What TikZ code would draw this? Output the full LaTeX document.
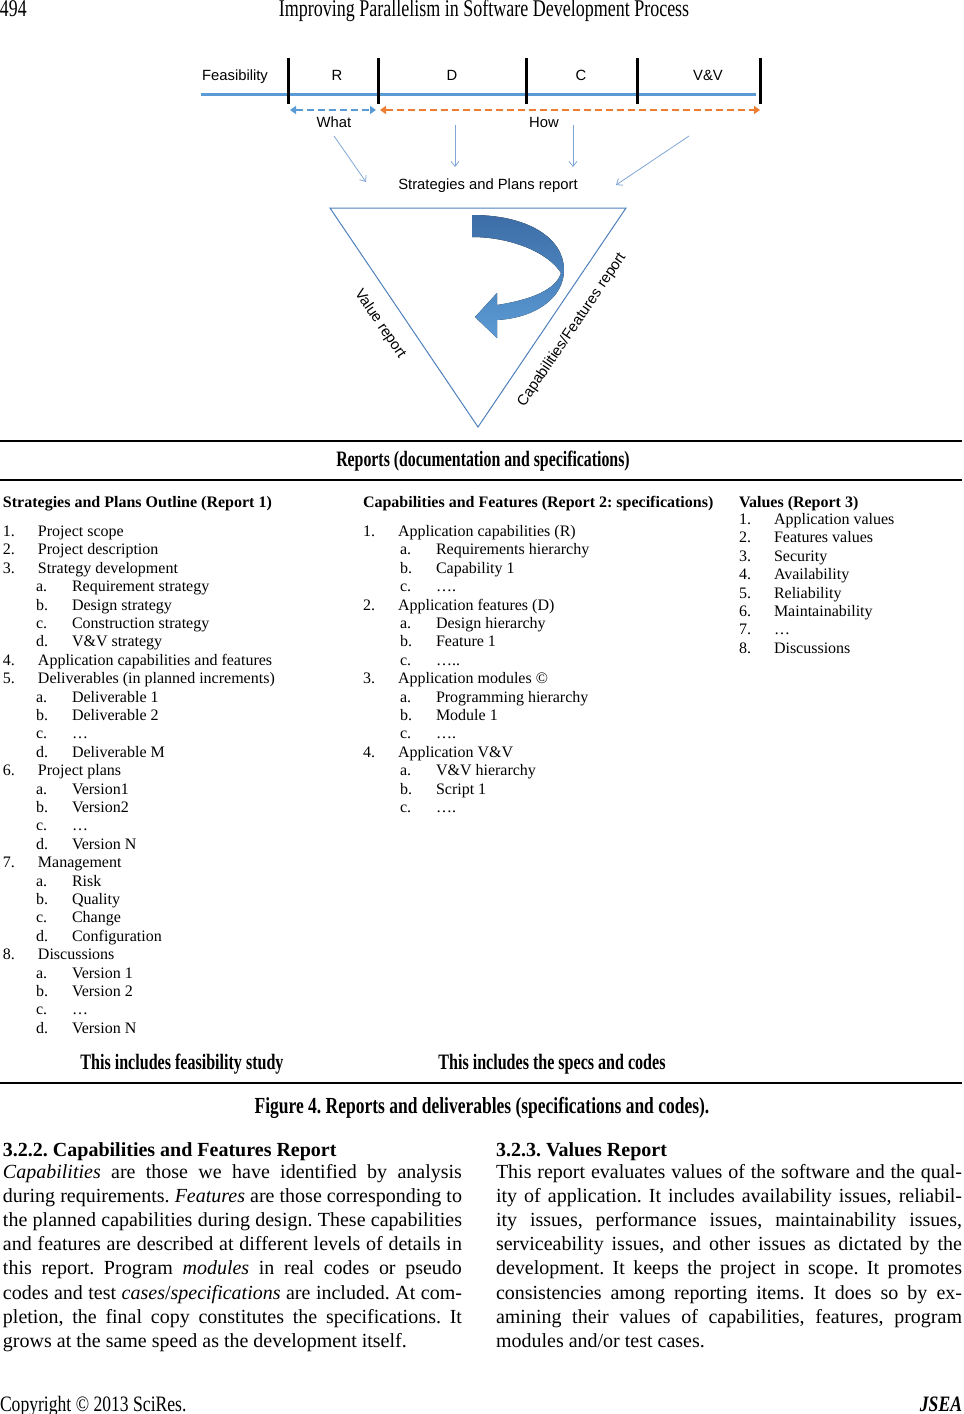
\documentclass[tikz,border=0pt]{standalone}
\usepackage{fontspec}
\setmainfont{Liberation Serif}
\newfontfamily\arialf{Liberation Sans}
\usetikzlibrary{arrows.meta}
\definecolor{offblue}{HTML}{5B9BD5}
\definecolor{offorange}{HTML}{ED7D31}
\definecolor{triblue}{HTML}{4F81BD}
\definecolor{arrdark}{HTML}{3D6DA6}
\definecolor{thinblue}{HTML}{7FA7D6}
\newcommand{\cond}[2]{\scalebox{#1}[1]{#2}}
\frenchspacing
\begin{document}
\begin{tikzpicture}[x=0.5pt,y=-0.5pt,
  every node/.style={inner sep=0pt, outer sep=0pt},
  lbl/.style={font=\arialf\fontsize{7.4pt}{8.8pt}\selectfont, anchor=base},
  lst/.style={font=\fontsize{8pt}{9.2pt}\selectfont, anchor=base west},
  lsthd/.style={font=\bfseries\fontsize{8pt}{9.2pt}\selectfont, anchor=base west},
  body/.style={font=\fontsize{10pt}{12.1pt}\selectfont, anchor=base west},
  bodyhd/.style={font=\bfseries\fontsize{10pt}{12.1pt}\selectfont, anchor=base west},
  rulestyle/.style={line width=0.75pt},
  bar/.style={line width=1.5pt},
  thinarr/.style={thinblue, line width=0.4pt, -{Straight Barb[length=2.5pt,width=4pt]}},
  dasharr/.style={line width=1pt, dash pattern=on 3.5pt off 2pt, {Triangle[length=3pt,width=4pt]}-{Triangle[length=3pt,width=4pt]}}
]
\useasboundingbox (0,0) rectangle (964,1414);
\fill[white] (0,0) rectangle (964,1414);

% header / footer
\node[anchor=base west] (pnum) at (0,16) {\fontsize{12pt}{14pt}\selectfont\cond{0.74}{494}};
\node[anchor=base] (title) at (484,16) {\fontsize{12pt}{14pt}\selectfont\cond{0.75}{Improving Parallelism in Software Development Process}};
\node[anchor=base west] (copy) at (0,1411) {\fontsize{11pt}{13pt}\selectfont\cond{0.8}{Copyright © 2013 SciRes.}};
\node[anchor=base east] (jsea) at (962,1411) {\fontsize{11pt}{13pt}\selectfont\cond{0.8}{\textbf{\textit{JSEA}}}};

% timeline
\coordinate (L0) at (201,94);
\coordinate (L1) at (756,94);
\draw[offblue, line width=1.5pt] (L0) -- (L1);
\foreach \i/\xx in {1/288,2/378,3/526,4/637,5/760}{
  \coordinate (bt\i) at (\xx,58);
  \coordinate (bb\i) at (\xx,104);
  \draw[bar] (bt\i) -- (bb\i);
}
\node[lbl] (feas) at (235,80) {Feasibility};
\node[lbl] (phR) at (337,80) {R};
\node[lbl] (phD) at (452,80) {D};
\node[lbl] (phC) at (581,80) {C};
\node[lbl] (phV) at (708,80) {V\&V};

\coordinate (w0) at (290,110);
\coordinate (w1) at (376,110);
\coordinate (h0) at (380,110);
\coordinate (h1) at (760,110);
\draw[dasharr, offblue] (w0) -- (w1);
\draw[dasharr, offorange] (h0) -- (h1);
\node[lbl] (what) at (334,127) {What};
\node[lbl] (how) at (544,127) {How};

\node[lbl] (strat) at (488,189) {Strategies and Plans report};
\coordinate (a1s) at (334,136); \coordinate (a1e) at (366,182);
\coordinate (a2s) at (455,125); \coordinate (a2e) at (455,167);
\coordinate (a3s) at (573,125); \coordinate (a3e) at (573,167);
\coordinate (a4s) at (689,136); \coordinate (a4e) at (616,185);
\draw[thinarr] (a1s) -- (a1e);
\draw[thinarr] (a2s) -- (a2e);
\draw[thinarr] (a3s) -- (a3e);
\draw[thinarr] (a4s) -- (a4e);

% triangle
\coordinate (tA) at (330,208);
\coordinate (tB) at (626,208);
\coordinate (tC) at (478,427);
\draw[triblue, line width=0.5pt] (tA) -- (tB) -- (tC) -- cycle;
\node[lbl, anchor=center, rotate=-55.95] (valrep) at (380,324) {Value report};
\node[lbl, anchor=center, rotate=55.95] (caprep) at (572,330) {Capabilities/Features report};

% curved arrow
\fill[top color=arrdark, bottom color=offblue]
  (472,215) .. controls (528,215) and (564,238) .. (564,270)
  .. controls (564,298) and (535,318) .. (497,320)
  -- (497,338) -- (475,317) -- (497,293) -- (497,305)
  .. controls (530,300) and (556,290) .. (561,273)
  .. controls (548,252) and (510,237) .. (472,237) -- cycle;

% rules
\coordinate (r1a) at (0,441); \coordinate (r1b) at (962,441);
\coordinate (r2a) at (0,480); \coordinate (r2b) at (962,480);
\coordinate (r3a) at (0,1083); \coordinate (r3b) at (962,1083);
\draw[rulestyle] (r1a) -- (r1b);
\draw[rulestyle] (r2a) -- (r2b);
\draw[rulestyle] (r3a) -- (r3b);
\node[anchor=base] (reports) at (483,466) {\bfseries\fontsize{11pt}{13pt}\selectfont\cond{0.72}{Reports (documentation and specifications)}};

% column 1
\node[lsthd] (c1h) at (3,507) {Strategies and Plans Outline (Report 1)};
\foreach \k/\lv/\lb/\tx in {0/1/1./Project scope, 1/1/2./Project description, 2/1/3./Strategy development,
  3/2/a./Requirement strategy, 4/2/b./Design strategy, 5/2/c./Construction strategy, 6/2/d./V\&V strategy,
  7/1/4./Application capabilities and features, 8/1/5./Deliverables (in planned increments),
  9/2/a./Deliverable 1, 10/2/b./Deliverable 2, 11/2/c./…, 12/2/d./Deliverable M,
  13/1/6./Project plans, 14/2/a./Version1, 15/2/b./Version2, 16/2/c./…, 17/2/d./Version N,
  18/1/7./Management, 19/2/a./Risk, 20/2/b./Quality, 21/2/c./Change, 22/2/d./Configuration,
  23/1/8./Discussions, 24/2/a./Version 1, 25/2/b./Version 2, 26/2/c./…, 27/2/d./Version N}{
  \pgfmathsetmacro{\nx}{ifthenelse(\lv==1,3,36)}
  \pgfmathsetmacro{\ty}{536.5+18.4*\k}
  \pgfmathsetmacro{\ttx}{ifthenelse(\lv==1,38,72)}
  \node[lst] (c1l\k) at (\nx,\ty) {\lb};
  \node[lst] (c1t\k) at (\ttx,\ty) {\tx};
}

% column 2
\node[lsthd] (c2h) at (363,507) {Capabilities and Features (Report 2: specifications)};
\foreach \k/\lv/\lb/\tx in {0/1/1./Application capabilities (R), 1/2/a./Requirements hierarchy, 2/2/b./Capability 1, 3/2/c./….,
  4/1/2./Application features (D), 5/2/a./Design hierarchy, 6/2/b./Feature 1, 7/2/c./…..,
  8/1/3./Application modules ©, 9/2/a./Programming hierarchy, 10/2/b./Module 1, 11/2/c./….,
  12/1/4./Application V\&V, 13/2/a./V\&V hierarchy, 14/2/b./Script 1, 15/2/c./….}{
  \pgfmathsetmacro{\nx}{ifthenelse(\lv==1,363,400)}
  \pgfmathsetmacro{\ty}{536.5+18.4*\k}
  \pgfmathsetmacro{\ttx}{ifthenelse(\lv==1,398,436)}
  \node[lst] (c2l\k) at (\nx,\ty) {\lb};
  \node[lst] (c2t\k) at (\ttx,\ty) {\tx};
}

% column 3
\node[lsthd] (c3h) at (739,507) {Values (Report 3)};
\foreach \k/\lb/\tx in {0/1./Application values, 1/2./Features values, 2/3./Security, 3/4./Availability,
  4/5./Reliability, 5/6./Maintainability, 6/7./…, 7/8./Discussions}{
  \pgfmathsetmacro{\ty}{524.5+18.4*\k}
  \node[lst] (c3l\k) at (739,\ty) {\lb};
  \node[lst] (c3t\k) at (774,\ty) {\tx};
}

\node[anchor=base] (incl1) at (182,1069) {\bfseries\fontsize{11pt}{13pt}\selectfont\cond{0.73}{This includes feasibility study}};
\node[anchor=base] (incl2) at (552,1069) {\bfseries\fontsize{11pt}{13pt}\selectfont\cond{0.73}{This includes the specs and codes}};

\node[anchor=base] (caption) at (482,1113) {\bfseries\fontsize{11.5pt}{13pt}\selectfont\cond{0.76}{Figure 4. Reports and deliverables (specifications and codes).}};

% body text left
\node[bodyhd] (lh) at (3,1156) {3.2.2. Capabilities and Features Report};
\node[body] (lb0) at (3,1178) {\makebox[229.5pt][s]{\textit{Capabilities} are those we have identified by analysis}};
\node[body] (lb1) at (3,1202.2) {\makebox[229.5pt][s]{during requirements. \textit{Features} are those corresponding to}};
\node[body] (lb2) at (3,1226.4) {\makebox[229.5pt][s]{the planned capabilities during design. These capabilities}};
\node[body] (lb3) at (3,1250.6) {\makebox[229.5pt][s]{and features are described at different levels of details in}};
\node[body] (lb4) at (3,1274.8) {\makebox[229.5pt][s]{this report. Program \textit{modules} in real codes or pseudo}};
\node[body] (lb5) at (3,1299) {\makebox[229.5pt][s]{codes and test \textit{cases}/\textit{specifications} are included. At com-}};
\node[body] (lb6) at (3,1323.2) {\makebox[229.5pt][s]{pletion, the final copy constitutes the specifications. It}};
\node[body] (lb7) at (3,1347.4) {grows at the same speed as the development itself.};

% body text right
\node[bodyhd] (rh) at (496,1156) {3.2.3. Values Report};
\node[body] (rb0) at (496,1178) {\makebox[233pt][s]{This report evaluates values of the software and the qual-}};
\node[body] (rb1) at (496,1202.2) {\makebox[233pt][s]{ity of application. It includes availability issues, reliabil-}};
\node[body] (rb2) at (496,1226.4) {\makebox[233pt][s]{ity issues, performance issues, maintainability issues,}};
\node[body] (rb3) at (496,1250.6) {\makebox[233pt][s]{serviceability issues, and other issues as dictated by the}};
\node[body] (rb4) at (496,1274.8) {\makebox[233pt][s]{development. It keeps the project in scope. It promotes}};
\node[body] (rb5) at (496,1299) {\makebox[233pt][s]{consistencies among reporting items. It does so by ex-}};
\node[body] (rb6) at (496,1323.2) {\makebox[233pt][s]{amining their values of capabilities, features, program}};
\node[body] (rb7) at (496,1347.4) {modules and/or test cases.};
\end{tikzpicture}
\end{document}
